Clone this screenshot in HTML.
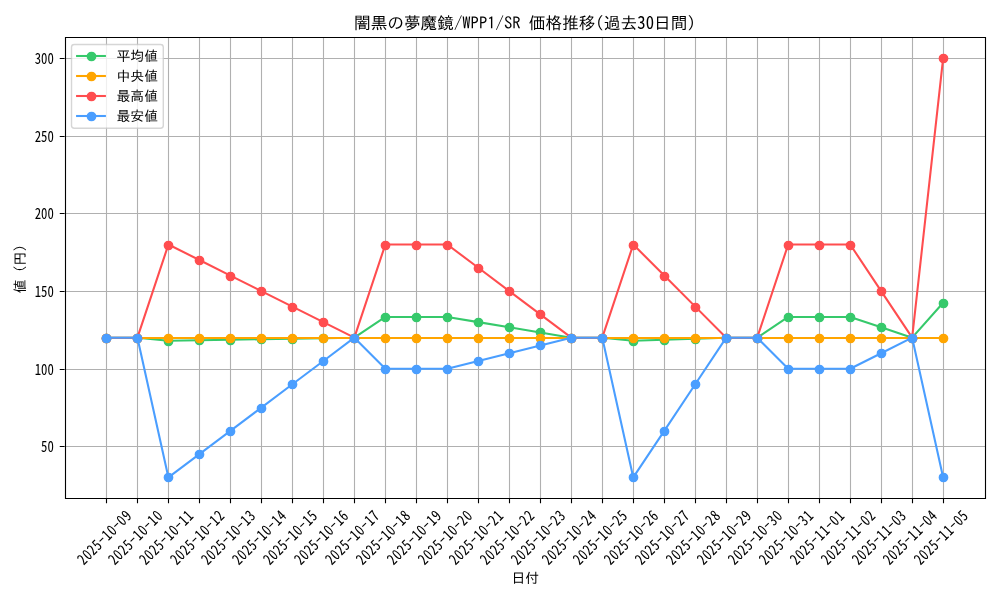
<!DOCTYPE html>
<html lang="ja"><head><meta charset="utf-8"><title>価格推移</title><style>html,body{margin:0;padding:0;background:#fff;width:1000px;height:600px;overflow:hidden}svg{display:block}svg{will-change:transform}.c{font-family:IPAGothic, 'Noto Sans CJK JP', 'Liberation Sans', sans-serif}.d{font-family:'Noto Sans Mono CJK JP', IPAGothic, 'Liberation Sans', sans-serif}</style></head><body>
<svg width="1000" height="600" viewBox="0 0 1000 600">
<rect width="1000" height="600" fill="#fff"/>
<path d="M106.5 37.19V498.4M137.5 37.19V498.4M168.5 37.19V498.4M199.5 37.19V498.4M230.5 37.19V498.4M261.5 37.19V498.4M292.5 37.19V498.4M323.5 37.19V498.4M354.5 37.19V498.4M385.5 37.19V498.4M416.5 37.19V498.4M447.5 37.19V498.4M478.5 37.19V498.4M509.5 37.19V498.4M540.5 37.19V498.4M571.5 37.19V498.4M602.5 37.19V498.4M633.5 37.19V498.4M664.5 37.19V498.4M695.5 37.19V498.4M726.5 37.19V498.4M757.5 37.19V498.4M788.5 37.19V498.4M819.5 37.19V498.4M850.5 37.19V498.4M881.5 37.19V498.4M912.5 37.19V498.4M943.5 37.19V498.4M64.6 446.5H984.99M64.6 369.5H984.99M64.6 291.5H984.99M64.6 213.5H984.99M64.6 136.5H984.99M64.6 58.5H984.99" stroke="#b0b0b0" stroke-width="1.11" fill="none"/>
<polyline points="106.44,337.68 137.43,337.68 168.42,340.78 199.4,340.26 230.39,339.75 261.38,339.23 292.37,338.71 323.36,338.19 354.35,337.68 385.34,316.97 416.33,316.97 447.32,316.97 478.31,322.15 509.3,327.32 540.29,332.5 571.28,337.68 602.27,337.68 633.26,340.78 664.25,339.75 695.24,338.71 726.23,337.68 757.22,337.68 788.21,316.97 819.2,316.97 850.19,316.97 881.17,327.32 912.16,337.68 943.15,302.74" fill="none" stroke="#36c96b" stroke-width="2.08" stroke-linejoin="round" stroke-linecap="square"/><g fill="#36c96b" stroke="#36c96b" stroke-width="1.39"><circle cx="106.5" cy="338.5" r="4.17"/><circle cx="137.5" cy="338.5" r="4.17"/><circle cx="168.5" cy="341.5" r="4.17"/><circle cx="199.5" cy="340.5" r="4.17"/><circle cx="230.5" cy="340.5" r="4.17"/><circle cx="261.5" cy="339.5" r="4.17"/><circle cx="292.5" cy="339.5" r="4.17"/><circle cx="323.5" cy="338.5" r="4.17"/><circle cx="354.5" cy="338.5" r="4.17"/><circle cx="385.5" cy="317.5" r="4.17"/><circle cx="416.5" cy="317.5" r="4.17"/><circle cx="447.5" cy="317.5" r="4.17"/><circle cx="478.5" cy="322.5" r="4.17"/><circle cx="509.5" cy="327.5" r="4.17"/><circle cx="540.5" cy="332.5" r="4.17"/><circle cx="571.5" cy="338.5" r="4.17"/><circle cx="602.5" cy="338.5" r="4.17"/><circle cx="633.5" cy="341.5" r="4.17"/><circle cx="664.5" cy="340.5" r="4.17"/><circle cx="695.5" cy="339.5" r="4.17"/><circle cx="726.5" cy="338.5" r="4.17"/><circle cx="757.5" cy="338.5" r="4.17"/><circle cx="788.5" cy="317.5" r="4.17"/><circle cx="819.5" cy="317.5" r="4.17"/><circle cx="850.5" cy="317.5" r="4.17"/><circle cx="881.5" cy="327.5" r="4.17"/><circle cx="912.5" cy="338.5" r="4.17"/><circle cx="943.5" cy="303.5" r="4.17"/></g>
<polyline points="106.44,338 137.43,338 168.42,338 199.4,338 230.39,338 261.38,338 292.37,338 323.36,338 354.35,338 385.34,338 416.33,338 447.32,338 478.31,338 509.3,338 540.29,338 571.28,338 602.27,338 633.26,338 664.25,338 695.24,338 726.23,338 757.22,338 788.21,338 819.2,338 850.19,338 881.17,338 912.16,338 943.15,338" fill="none" stroke="#ffa500" stroke-width="2.08" stroke-linejoin="round" stroke-linecap="square"/><g fill="#ffa500" stroke="#ffa500" stroke-width="1.39"><circle cx="106.5" cy="338.5" r="4.17"/><circle cx="137.5" cy="338.5" r="4.17"/><circle cx="168.5" cy="338.5" r="4.17"/><circle cx="199.5" cy="338.5" r="4.17"/><circle cx="230.5" cy="338.5" r="4.17"/><circle cx="261.5" cy="338.5" r="4.17"/><circle cx="292.5" cy="338.5" r="4.17"/><circle cx="323.5" cy="338.5" r="4.17"/><circle cx="354.5" cy="338.5" r="4.17"/><circle cx="385.5" cy="338.5" r="4.17"/><circle cx="416.5" cy="338.5" r="4.17"/><circle cx="447.5" cy="338.5" r="4.17"/><circle cx="478.5" cy="338.5" r="4.17"/><circle cx="509.5" cy="338.5" r="4.17"/><circle cx="540.5" cy="338.5" r="4.17"/><circle cx="571.5" cy="338.5" r="4.17"/><circle cx="602.5" cy="338.5" r="4.17"/><circle cx="633.5" cy="338.5" r="4.17"/><circle cx="664.5" cy="338.5" r="4.17"/><circle cx="695.5" cy="338.5" r="4.17"/><circle cx="726.5" cy="338.5" r="4.17"/><circle cx="757.5" cy="338.5" r="4.17"/><circle cx="788.5" cy="338.5" r="4.17"/><circle cx="819.5" cy="338.5" r="4.17"/><circle cx="850.5" cy="338.5" r="4.17"/><circle cx="881.5" cy="338.5" r="4.17"/><circle cx="912.5" cy="338.5" r="4.17"/><circle cx="943.5" cy="338.5" r="4.17"/></g>
<polyline points="106.44,337.68 137.43,337.68 168.42,244.5 199.4,260.03 230.39,275.56 261.38,291.09 292.37,306.62 323.36,322.15 354.35,337.68 385.34,244.5 416.33,244.5 447.32,244.5 478.31,267.79 509.3,291.09 540.29,314.38 571.28,337.68 602.27,337.68 633.26,244.5 664.25,275.56 695.24,306.62 726.23,337.68 757.22,337.68 788.21,244.5 819.2,244.5 850.19,244.5 881.17,291.09 912.16,337.68 943.15,58.15" fill="none" stroke="#ff4d4f" stroke-width="2.08" stroke-linejoin="round" stroke-linecap="square"/><g fill="#ff4d4f" stroke="#ff4d4f" stroke-width="1.39"><circle cx="106.5" cy="338.5" r="4.17"/><circle cx="137.5" cy="338.5" r="4.17"/><circle cx="168.5" cy="245.5" r="4.17"/><circle cx="199.5" cy="260.5" r="4.17"/><circle cx="230.5" cy="276.5" r="4.17"/><circle cx="261.5" cy="291.5" r="4.17"/><circle cx="292.5" cy="307.5" r="4.17"/><circle cx="323.5" cy="322.5" r="4.17"/><circle cx="354.5" cy="338.5" r="4.17"/><circle cx="385.5" cy="245.5" r="4.17"/><circle cx="416.5" cy="245.5" r="4.17"/><circle cx="447.5" cy="245.5" r="4.17"/><circle cx="478.5" cy="268.5" r="4.17"/><circle cx="509.5" cy="291.5" r="4.17"/><circle cx="540.5" cy="314.5" r="4.17"/><circle cx="571.5" cy="338.5" r="4.17"/><circle cx="602.5" cy="338.5" r="4.17"/><circle cx="633.5" cy="245.5" r="4.17"/><circle cx="664.5" cy="276.5" r="4.17"/><circle cx="695.5" cy="307.5" r="4.17"/><circle cx="726.5" cy="338.5" r="4.17"/><circle cx="757.5" cy="338.5" r="4.17"/><circle cx="788.5" cy="245.5" r="4.17"/><circle cx="819.5" cy="245.5" r="4.17"/><circle cx="850.5" cy="245.5" r="4.17"/><circle cx="881.5" cy="291.5" r="4.17"/><circle cx="912.5" cy="338.5" r="4.17"/><circle cx="943.5" cy="58.5" r="4.17"/></g>
<polyline points="106.44,337.68 137.43,337.68 168.42,477.44 199.4,454.14 230.39,430.85 261.38,407.56 292.37,384.26 323.36,360.97 354.35,337.68 385.34,368.73 416.33,368.73 447.32,368.73 478.31,360.97 509.3,353.2 540.29,345.44 571.28,337.68 602.27,337.68 633.26,477.44 664.25,430.85 695.24,384.26 726.23,337.68 757.22,337.68 788.21,368.73 819.2,368.73 850.19,368.73 881.17,353.2 912.16,337.68 943.15,477.44" fill="none" stroke="#4a9eff" stroke-width="2.08" stroke-linejoin="round" stroke-linecap="square"/><g fill="#4a9eff" stroke="#4a9eff" stroke-width="1.39"><circle cx="106.5" cy="338.5" r="4.17"/><circle cx="137.5" cy="338.5" r="4.17"/><circle cx="168.5" cy="477.5" r="4.17"/><circle cx="199.5" cy="454.5" r="4.17"/><circle cx="230.5" cy="431.5" r="4.17"/><circle cx="261.5" cy="408.5" r="4.17"/><circle cx="292.5" cy="384.5" r="4.17"/><circle cx="323.5" cy="361.5" r="4.17"/><circle cx="354.5" cy="338.5" r="4.17"/><circle cx="385.5" cy="369.5" r="4.17"/><circle cx="416.5" cy="369.5" r="4.17"/><circle cx="447.5" cy="369.5" r="4.17"/><circle cx="478.5" cy="361.5" r="4.17"/><circle cx="509.5" cy="353.5" r="4.17"/><circle cx="540.5" cy="345.5" r="4.17"/><circle cx="571.5" cy="338.5" r="4.17"/><circle cx="602.5" cy="338.5" r="4.17"/><circle cx="633.5" cy="477.5" r="4.17"/><circle cx="664.5" cy="431.5" r="4.17"/><circle cx="695.5" cy="384.5" r="4.17"/><circle cx="726.5" cy="338.5" r="4.17"/><circle cx="757.5" cy="338.5" r="4.17"/><circle cx="788.5" cy="369.5" r="4.17"/><circle cx="819.5" cy="369.5" r="4.17"/><circle cx="850.5" cy="369.5" r="4.17"/><circle cx="881.5" cy="353.5" r="4.17"/><circle cx="912.5" cy="338.5" r="4.17"/><circle cx="943.5" cy="477.5" r="4.17"/></g>
<path d="M65.5 37.5V498.5M985.5 37.5V498.5M65.5 498.5H985.5M65.5 37.5H985.5" stroke="#000" stroke-width="1.11" stroke-linecap="square" fill="none"/>
<path d="M106.5 498.4v4.86M137.5 498.4v4.86M168.5 498.4v4.86M199.5 498.4v4.86M230.5 498.4v4.86M261.5 498.4v4.86M292.5 498.4v4.86M323.5 498.4v4.86M354.5 498.4v4.86M385.5 498.4v4.86M416.5 498.4v4.86M447.5 498.4v4.86M478.5 498.4v4.86M509.5 498.4v4.86M540.5 498.4v4.86M571.5 498.4v4.86M602.5 498.4v4.86M633.5 498.4v4.86M664.5 498.4v4.86M695.5 498.4v4.86M726.5 498.4v4.86M757.5 498.4v4.86M788.5 498.4v4.86M819.5 498.4v4.86M850.5 498.4v4.86M881.5 498.4v4.86M912.5 498.4v4.86M943.5 498.4v4.86M64.6 446.5h-4.86M64.6 369.5h-4.86M64.6 291.5h-4.86M64.6 213.5h-4.86M64.6 136.5h-4.86M64.6 58.5h-4.86" stroke="#000" stroke-width="1.11" fill="none"/>
<g class="c" font-size="13.89" fill="#000">
<g class="d">
<text transform="translate(83.72 565.7) rotate(-45) scale(0.92 1.1)" letter-spacing="0.6">2025<tspan class="c">-</tspan>10<tspan class="c">-</tspan>09</text>
<text transform="translate(114.71 565.7) rotate(-45) scale(0.92 1.1)" letter-spacing="0.6">2025<tspan class="c">-</tspan>10<tspan class="c">-</tspan>10</text>
<text transform="translate(145.69 565.7) rotate(-45) scale(0.92 1.1)" letter-spacing="0.6">2025<tspan class="c">-</tspan>10<tspan class="c">-</tspan>11</text>
<text transform="translate(176.68 565.7) rotate(-45) scale(0.92 1.1)" letter-spacing="0.6">2025<tspan class="c">-</tspan>10<tspan class="c">-</tspan>12</text>
<text transform="translate(207.67 565.7) rotate(-45) scale(0.92 1.1)" letter-spacing="0.6">2025<tspan class="c">-</tspan>10<tspan class="c">-</tspan>13</text>
<text transform="translate(238.66 565.7) rotate(-45) scale(0.92 1.1)" letter-spacing="0.6">2025<tspan class="c">-</tspan>10<tspan class="c">-</tspan>14</text>
<text transform="translate(269.65 565.7) rotate(-45) scale(0.92 1.1)" letter-spacing="0.6">2025<tspan class="c">-</tspan>10<tspan class="c">-</tspan>15</text>
<text transform="translate(300.64 565.7) rotate(-45) scale(0.92 1.1)" letter-spacing="0.6">2025<tspan class="c">-</tspan>10<tspan class="c">-</tspan>16</text>
<text transform="translate(331.63 565.7) rotate(-45) scale(0.92 1.1)" letter-spacing="0.6">2025<tspan class="c">-</tspan>10<tspan class="c">-</tspan>17</text>
<text transform="translate(362.62 565.7) rotate(-45) scale(0.92 1.1)" letter-spacing="0.6">2025<tspan class="c">-</tspan>10<tspan class="c">-</tspan>18</text>
<text transform="translate(393.61 565.7) rotate(-45) scale(0.92 1.1)" letter-spacing="0.6">2025<tspan class="c">-</tspan>10<tspan class="c">-</tspan>19</text>
<text transform="translate(424.6 565.7) rotate(-45) scale(0.92 1.1)" letter-spacing="0.6">2025<tspan class="c">-</tspan>10<tspan class="c">-</tspan>20</text>
<text transform="translate(455.59 565.7) rotate(-45) scale(0.92 1.1)" letter-spacing="0.6">2025<tspan class="c">-</tspan>10<tspan class="c">-</tspan>21</text>
<text transform="translate(486.58 565.7) rotate(-45) scale(0.92 1.1)" letter-spacing="0.6">2025<tspan class="c">-</tspan>10<tspan class="c">-</tspan>22</text>
<text transform="translate(517.57 565.7) rotate(-45) scale(0.92 1.1)" letter-spacing="0.6">2025<tspan class="c">-</tspan>10<tspan class="c">-</tspan>23</text>
<text transform="translate(548.56 565.7) rotate(-45) scale(0.92 1.1)" letter-spacing="0.6">2025<tspan class="c">-</tspan>10<tspan class="c">-</tspan>24</text>
<text transform="translate(579.55 565.7) rotate(-45) scale(0.92 1.1)" letter-spacing="0.6">2025<tspan class="c">-</tspan>10<tspan class="c">-</tspan>25</text>
<text transform="translate(610.54 565.7) rotate(-45) scale(0.92 1.1)" letter-spacing="0.6">2025<tspan class="c">-</tspan>10<tspan class="c">-</tspan>26</text>
<text transform="translate(641.53 565.7) rotate(-45) scale(0.92 1.1)" letter-spacing="0.6">2025<tspan class="c">-</tspan>10<tspan class="c">-</tspan>27</text>
<text transform="translate(672.52 565.7) rotate(-45) scale(0.92 1.1)" letter-spacing="0.6">2025<tspan class="c">-</tspan>10<tspan class="c">-</tspan>28</text>
<text transform="translate(703.51 565.7) rotate(-45) scale(0.92 1.1)" letter-spacing="0.6">2025<tspan class="c">-</tspan>10<tspan class="c">-</tspan>29</text>
<text transform="translate(734.5 565.7) rotate(-45) scale(0.92 1.1)" letter-spacing="0.6">2025<tspan class="c">-</tspan>10<tspan class="c">-</tspan>30</text>
<text transform="translate(765.49 565.7) rotate(-45) scale(0.92 1.1)" letter-spacing="0.6">2025<tspan class="c">-</tspan>10<tspan class="c">-</tspan>31</text>
<text transform="translate(796.48 565.7) rotate(-45) scale(0.92 1.1)" letter-spacing="0.6">2025<tspan class="c">-</tspan>11<tspan class="c">-</tspan>01</text>
<text transform="translate(827.47 565.7) rotate(-45) scale(0.92 1.1)" letter-spacing="0.6">2025<tspan class="c">-</tspan>11<tspan class="c">-</tspan>02</text>
<text transform="translate(858.45 565.7) rotate(-45) scale(0.92 1.1)" letter-spacing="0.6">2025<tspan class="c">-</tspan>11<tspan class="c">-</tspan>03</text>
<text transform="translate(889.44 565.7) rotate(-45) scale(0.92 1.1)" letter-spacing="0.6">2025<tspan class="c">-</tspan>11<tspan class="c">-</tspan>04</text>
<text transform="translate(920.43 565.7) rotate(-45) scale(0.92 1.1)" letter-spacing="0.6">2025<tspan class="c">-</tspan>11<tspan class="c">-</tspan>05</text>
<text transform="translate(53.8 451.8) scale(0.92 1.1)" text-anchor="end">50</text>
<text transform="translate(53.8 374.8) scale(0.92 1.1)" text-anchor="end">100</text>
<text transform="translate(53.8 296.8) scale(0.92 1.1)" text-anchor="end">150</text>
<text transform="translate(53.8 218.8) scale(0.92 1.1)" text-anchor="end">200</text>
<text transform="translate(53.8 141.8) scale(0.92 1.1)" text-anchor="end">250</text>
<text transform="translate(53.8 63.8) scale(0.92 1.1)" text-anchor="end">300</text>
</g>
<text x="525.3" y="582.7" text-anchor="middle">日付</text>
<text x="25.2" y="265.39" text-anchor="middle" transform="rotate(-90 25.2 265.39)">値（円）</text>
<g font-size="16.67">
<text x="353.97" y="29.15">闇黒の夢魔鏡/WPP1/SR 価格推移(過去</text>
<text class="d" transform="translate(637.3 29.15) scale(1 1.1)">30</text>
<text x="653.97" y="29.15">日間)</text>
</g>
<rect x="71.5" y="44.5" width="91.8" height="83.7" rx="2.78" fill="#fff" stroke="#ccc" stroke-width="1.39" opacity="0.8"/>
<g class="c" font-size="13.89">
<path d="M77.1 56H104.88" stroke="#36c96b" stroke-width="2.08" stroke-linecap="square"/>
<circle cx="91.5" cy="56.5" r="4.17" fill="#36c96b" stroke="#36c96b" stroke-width="1.39"/>
<text x="116.49" y="61">平均値</text>
<path d="M77.1 76H104.88" stroke="#ffa500" stroke-width="2.08" stroke-linecap="square"/>
<circle cx="91.5" cy="76.5" r="4.17" fill="#ffa500" stroke="#ffa500" stroke-width="1.39"/>
<text x="116.49" y="81">中央値</text>
<path d="M77.1 96H104.88" stroke="#ff4d4f" stroke-width="2.08" stroke-linecap="square"/>
<circle cx="91.5" cy="96.5" r="4.17" fill="#ff4d4f" stroke="#ff4d4f" stroke-width="1.39"/>
<text x="116.49" y="101">最高値</text>
<path d="M77.1 116H104.88" stroke="#4a9eff" stroke-width="2.08" stroke-linecap="square"/>
<circle cx="91.5" cy="116.5" r="4.17" fill="#4a9eff" stroke="#4a9eff" stroke-width="1.39"/>
<text x="116.49" y="121">最安値</text>
</g>
</g>
</svg>
</body></html>
